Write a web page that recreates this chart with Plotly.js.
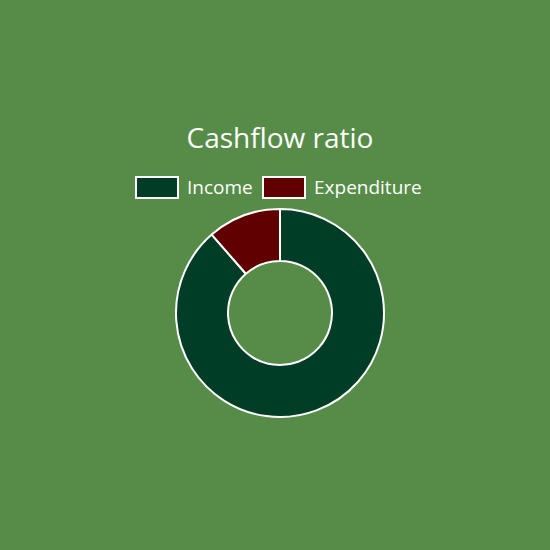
<!DOCTYPE html>
<html>
<head>
<meta charset="utf-8">
<script src="https://cdn.plot.ly/plotly-3.0.1.min.js"></script>
<style>
  html, body { margin: 0; padding: 0; background: #568c47; }
  #chart { width: 550px; height: 550px; }
</style>
</head>
<body>
<div id="chart"></div>
<script>
// Chart data
const labels = ['Income', 'Expenditure'];
const values = [88.6, 11.4];
const colors = ['#003d27', '#610000'];

const W = 550, H = 550;
const bg = '#568c47';

// Legend drawn by hand so the swatches look like the original wide boxes
const legendBoxX = [136, 263];
const boxW = 42, boxTop = 177, boxBottom = 198;

const shapes = labels.map((lab, i) => ({
  type: 'rect',
  xref: 'paper', yref: 'paper',
  x0: legendBoxX[i] / W, x1: (legendBoxX[i] + boxW) / W,
  y0: 1 - boxBottom / H, y1: 1 - boxTop / H,
  fillcolor: colors[i],
  line: { color: '#ffffff', width: 2 }
}));

const annotations = labels.map((lab, i) => ({
  text: lab,
  xref: 'paper', yref: 'paper',
  x: (legendBoxX[i] + boxW + 7) / W,
  y: 1 - 187 / H,
  xanchor: 'left', yanchor: 'middle',
  showarrow: false,
  font: { family: 'Open Sans, sans-serif', size: 19, color: '#ffffff' }
}));

const trace = {
  type: 'pie',
  labels: labels,
  values: values,
  hole: 0.5,
  sort: false,
  direction: 'clockwise',
  rotation: 0,
  textinfo: 'none',
  hoverinfo: 'label+value',
  marker: { colors: colors, line: { color: '#ffffff', width: 2 } },
  domain: { x: [176 / W, 384 / W], y: [1 - 417 / H, 1 - 209 / H] },
  showlegend: false
};

const layout = {
  width: W, height: H,
  paper_bgcolor: bg,
  plot_bgcolor: bg,
  margin: { t: 0, r: 0, b: 0, l: 0 },
  title: {
    text: 'Cashflow ratio',
    x: 280 / W, xanchor: 'center',
    y: 1 - 138 / H, yanchor: 'middle',
    font: { family: 'Open Sans, sans-serif', size: 28, color: '#ffffff', weight: 400 }
  },
  showlegend: false,
  shapes: shapes,
  annotations: annotations
};

Plotly.newPlot('chart', [trace], layout, { displayModeBar: false, staticPlot: true });
</script>
</body>
</html>
